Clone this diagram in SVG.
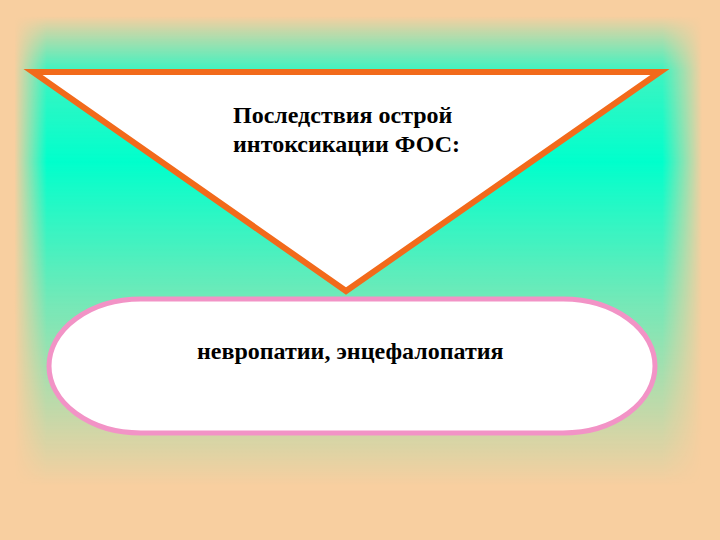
<svg xmlns="http://www.w3.org/2000/svg" width="720" height="540" viewBox="0 0 720 540">
  <defs>
    <linearGradient id="vert" x1="0" y1="0" x2="0" y2="540" gradientUnits="userSpaceOnUse">
      <stop offset="0.03" stop-color="#00FFCC" stop-opacity="0"/>
      <stop offset="0.13" stop-color="#00FFCC" stop-opacity="0.75"/>
      <stop offset="0.3" stop-color="#00FFCC" stop-opacity="1"/>
      <stop offset="0.55" stop-color="#00FFCC" stop-opacity="0.55"/>
      <stop offset="0.9" stop-color="#00FFCC" stop-opacity="0"/>
    </linearGradient>
    <linearGradient id="horz" x1="0" y1="0" x2="720" y2="0" gradientUnits="userSpaceOnUse">
      <stop offset="0.02" stop-color="#000"/>
      <stop offset="0.065" stop-color="#fff"/>
      <stop offset="0.92" stop-color="#fff"/>
      <stop offset="0.975" stop-color="#000"/>
    </linearGradient>
    <mask id="hmask">
      <rect x="0" y="0" width="720" height="540" fill="url(#horz)"/>
    </mask>
    <style>
      .lbl { font-family: "Liberation Serif", "Times New Roman", serif; font-weight: bold; font-size: 24px; fill: #000; }
    </style>
  </defs>
  <rect x="0" y="0" width="720" height="540" fill="#F8CFA0"/>
  <rect x="0" y="0" width="720" height="540" fill="url(#vert)" mask="url(#hmask)"/>

  <g id="triangle">
    <polygon points="33,72 660,72 346,291" fill="#FFFFFF" stroke="#F26A1B" stroke-width="6" stroke-linejoin="miter"/>
    <text class="lbl" x="233" y="123">Последствия острой</text>
    <text class="lbl" x="233" y="152">интоксикации ФОС:</text>
  </g>

  <g id="pill">
    <rect x="49" y="299" width="606" height="134" rx="92" ry="67" fill="#FFFFFF" stroke="#F293C6" stroke-width="5"/>
    <text class="lbl" x="197" y="359">невропатии, энцефалопатия</text>
  </g>

  <g id="connectors"/>
</svg>
